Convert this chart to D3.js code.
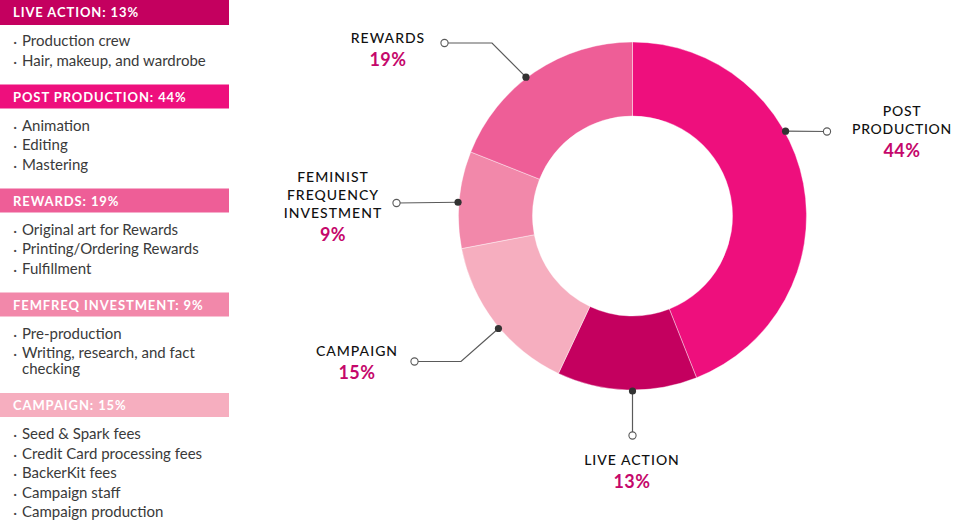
<!DOCTYPE html>
<html><head><meta charset="utf-8">
<script src="https://cdn.jsdelivr.net/npm/d3@7"></script>
<style>
html,body{margin:0;padding:0;background:#fff;}
svg{display:block;}
</style></head>
<body><svg id="chart" width="953" height="521"></svg>
<script>
// ---- data ----
const categories = ["POST PRODUCTION", "LIVE ACTION", "CAMPAIGN", "FEMINIST FREQUENCY INVESTMENT", "REWARDS"];
const values = [44, 13, 15, 9, 19];
const sliceColors = ["#EE0F7D", "#C4005F", "#F6AEBF", "#F288AA", "#EE5E97"];
const labelLines = [["POST", "PRODUCTION"], ["LIVE ACTION"], ["CAMPAIGN"], ["FEMINIST", "FREQUENCY", "INVESTMENT"], ["REWARDS"]];

const legendTitles = ["LIVE ACTION: 13%", "POST PRODUCTION: 44%", "REWARDS: 19%", "FEMFREQ INVESTMENT: 9%", "CAMPAIGN: 15%"];
const legendColors = ["#C4005F", "#EE0F7D", "#EE5E97", "#F288AA", "#F6AEBF"];
const legendItems = [
  [["Production crew"], ["Hair, makeup, and wardrobe"]],
  [["Animation"], ["Editing"], ["Mastering"]],
  [["Original art for Rewards"], ["Printing/Ordering Rewards"], ["Fulfillment"]],
  [["Pre-production"], ["Writing, research, and fact", "checking"]],
  [["Seed & Spark fees"], ["Credit Card processing fees"], ["BackerKit fees"], ["Campaign staff"], ["Campaign production"]]
];

// ---- layout (annotation placement) ----
const cx = 632.5, cy = 216, rOuter = 174, rInner = 100;
const leaders = [
  {ang: 61,    pts: [[827, 131.5]],            lx: 902, ly: 116},
  {ang: 180,   pts: [[632.5, 435.5]],          lx: 632, ly: 465},
  {ang: 230,   pts: [[461, 361.5], [414.5, 361.5]], lx: 357, ly: 356},
  {ang: 274.5, pts: [[396.5, 203]],            lx: 333, ly: 182},
  {ang: 322.5, pts: [[492, 43], [444.5, 43]],  lx: 388, ly: 43}
];

const svg = d3.select("#chart");
const labelFont = "Lato, 'Open Sans', sans-serif";

// ---- donut ----
const pie = d3.pie().sort(null).value(d => d)(values);
const arc = d3.arc().innerRadius(rInner).outerRadius(rOuter);
const g = svg.append("g").attr("transform", `translate(${cx},${cy})`);
g.selectAll("path").data(pie).join("path")
  .attr("d", arc)
  .attr("fill", (d, i) => sliceColors[i])
  .attr("stroke", "#fff").attr("stroke-width", 0.4);

// ---- leaders + labels ----
leaders.forEach((L, i) => {
  const p = d3.pointRadial(L.ang * Math.PI / 180, rOuter + 1);
  const start = [cx + p[0], cy + p[1]];
  const pts = [start, ...L.pts];
  svg.append("path").attr("d", d3.line()(pts))
    .attr("fill", "none").attr("stroke", "#5a5a5a").attr("stroke-width", 1.2);
  svg.append("circle").attr("cx", start[0]).attr("cy", start[1]).attr("r", 3.6).attr("fill", "#333");
  const end = pts[pts.length - 1];
  svg.append("circle").attr("cx", end[0]).attr("cy", end[1]).attr("r", 3.6)
    .attr("fill", "#fff").attr("stroke", "#5a5a5a").attr("stroke-width", 1.1);
  const lines = labelLines[i];
  const ls = i === 0 ? "0.7px" : "1px";
  lines.forEach((t, k) => {
    svg.append("text").attr("x", L.lx).attr("y", L.ly + k * 18)
      .attr("text-anchor", "middle").attr("font-family", labelFont)
      .attr("font-size", 14).attr("font-weight", 500).attr("letter-spacing", ls)
      .attr("fill", "#111").text(t);
  });
  svg.append("text").attr("x", L.lx).attr("y", L.ly + (lines.length - 1) * 18 + 23)
    .attr("text-anchor", "middle").attr("font-family", labelFont)
    .attr("font-size", 18).attr("font-weight", 700).attr("letter-spacing", "0.5px")
    .attr("fill", "#C5076B").text(values[i] + "%");
});

// ---- left legend panel ----
const panelW = 229, headH = 24;
let y = 0;
legendTitles.forEach((title, i) => {
  svg.append("rect").attr("x", 0).attr("y", y).attr("width", panelW).attr("height", headH + (i === 0 ? 1 : 0))
    .attr("fill", legendColors[i]);
  svg.append("text").attr("x", 13).attr("y", y + 17)
    .attr("font-family", labelFont).attr("font-size", 13).attr("font-weight", 700)
    .attr("letter-spacing", "0.9px").attr("fill", "#fff").text(title);
  let iy = y + headH + 17.5;
  legendItems[i].forEach((item, j) => {
    if (j > 0) iy += 19.5;
    svg.append("text").attr("x", 13.5).attr("y", iy + 4.5)
      .attr("font-family", labelFont).attr("font-size", 12).attr("font-weight", 700)
      .attr("fill", "#444").text("·");
    item.forEach((ln, k) => {
      if (k > 0) iy += 16;
      svg.append("text").attr("x", 22).attr("y", iy + 4.5)
        .attr("font-family", labelFont).attr("font-size", 15)
        .attr("fill", "#3a3a3a").text(ln);
    });
  });
  y = iy + 23.5;
});
</script></body></html>
